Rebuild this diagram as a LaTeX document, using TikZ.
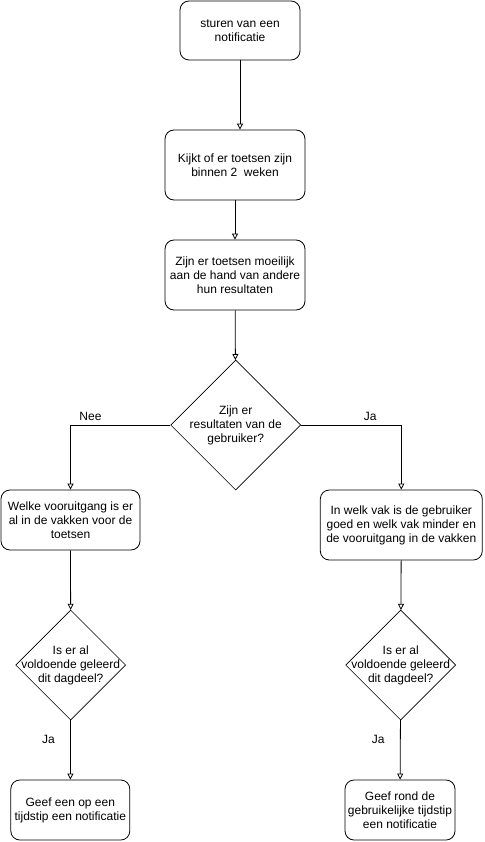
\documentclass[tikz,border=0pt]{standalone}
\usepackage{fontspec}
\setmainfont{Liberation Sans}
\usetikzlibrary{arrows.meta,shapes.geometric}

\begin{document}
\begin{tikzpicture}[x=1pt,y=-1pt,>={Triangle[open,length=6pt,width=6pt]},
  procbox/.style={draw,rounded corners=9pt,line width=0.8pt,align=center,
    inner sep=0pt,font=\fontsize{12}{14}\selectfont},
  choice/.style={diamond,draw,line width=0.6pt,inner sep=0pt,aspect=1},
  choicetext/.style={align=center,inner sep=0pt,font=\fontsize{12}{14}\selectfont},
  flow/.style={->,line width=0.8pt},
  lbl/.style={font=\fontsize{12}{14}\selectfont}]
  \useasboundingbox (0,0) rectangle (484,842);

  \node[procbox,minimum width=120pt,minimum height=59pt] (start) at (240,30.5)
    {sturen van een\\notificatie};
  \node[procbox,minimum width=140pt,minimum height=70pt] (check) at (235,165)
    {Kijkt of er toetsen zijn\\binnen 2\ \ weken};
  \node[procbox,minimum width=140pt,minimum height=70pt] (hard) at (235,275)
    {Zijn er toetsen moeilijk\\aan de hand van andere\\hun resultaten};

  \node[choice,minimum size=130pt] (res) at (235.7,425) {};
  \node[choicetext] (restext) at (res) {Zijn er\\resultaten van de\\gebruiker?};

  \node[procbox,minimum width=139pt,minimum height=60pt] (progress) at (70.5,520)
    {Welke vooruitgang is er\\al in de vakken voor de\\toetsen};
  \node[procbox,minimum width=162pt,minimum height=70pt] (subject) at (401.3,525)
    {In welk vak is de gebruiker\\goed en welk vak minder en\\de vooruitgang in de vakken};

  \node[choice,minimum size=110pt] (learnL) at (70.7,665) {};
  \node[choicetext] (learnLtext) at (learnL) {Is er al\\voldoende geleerd\\dit dagdeel?};
  \node[choice,minimum size=110pt] (learnR) at (400.7,665) {};
  \node[choicetext] (learnRtext) at (learnR) {Is er al\\voldoende geleerd\\dit dagdeel?};

  \node[procbox,minimum width=119pt,minimum height=60pt] (notifL) at (70.3,810)
    {Geef een op een\\tijdstip een notificatie};
  \node[procbox,minimum width=110pt,minimum height=60pt] (notifR) at (400,810)
    {Geef rond de\\gebruikelijke tijdstip\\een notificatie};

  \draw[flow] (start.south) -- (start.south |- check.north);
  \draw[flow] (check) -- (hard);
  \draw[flow] (hard) -- (res);
  \draw[flow] (res.west) -| node[lbl,pos=0.4,above=1pt] {Nee} (progress.north);
  \draw[flow] (res.east) -| node[lbl,pos=0.345,above=1pt] {Ja} (subject.north);
  \draw[flow] (progress) -- (learnL);
  \draw[flow] (subject) -- (learnR);
  \draw[flow] (learnL) -- node[lbl,pos=0.33,left=12pt] {Ja} (notifL);
  \draw[flow] (learnR) -- node[lbl,pos=0.33,left=12pt] {Ja} (notifR);
\end{tikzpicture}
\end{document}
